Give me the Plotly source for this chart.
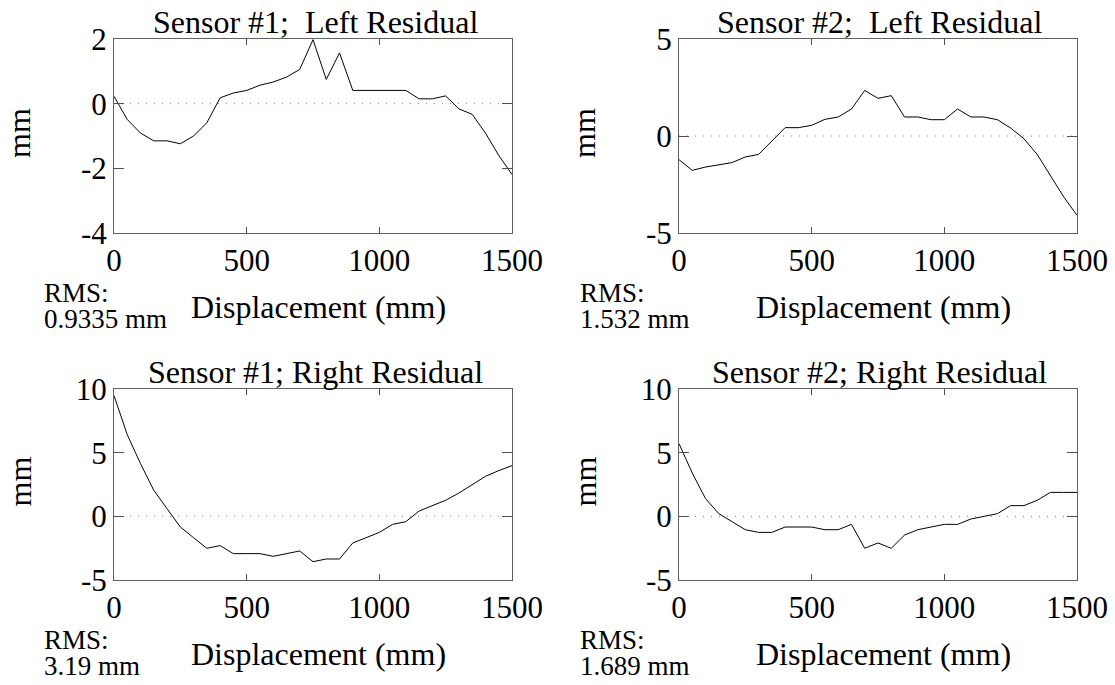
import plotly.graph_objects as go

# ---- data ----
displacement = [0, 50, 100, 150, 200, 250, 300, 350, 400, 450, 500, 550, 600, 650, 700,
                750, 800, 850, 900, 950, 1000, 1050, 1100, 1150, 1200, 1250, 1300, 1350,
                1400, 1450, 1500]

s1_left = [0.23, -0.49, -0.91, -1.15, -1.15, -1.24, -1.0, -0.59, 0.18, 0.33, 0.41, 0.57,
           0.67, 0.82, 1.06, 1.98, 0.75, 1.57, 0.41, 0.41, 0.41, 0.41, 0.41, 0.15, 0.15,
           0.24, -0.16, -0.33, -0.91, -1.6, -2.19]
s2_left = [-1.22, -1.77, -1.6, -1.48, -1.37, -1.08, -0.95, -0.26, 0.43, 0.43, 0.55, 0.86,
           0.98, 1.39, 2.35, 1.94, 2.08, 0.98, 0.98, 0.84, 0.84, 1.39, 0.98, 0.98, 0.84,
           0.41, -0.14, -0.95, -2.03, -3.14, -4.09]
s1_right = [9.48, 6.41, 4.14, 2.04, 0.6, -0.84, -1.68, -2.51, -2.3, -2.93, -2.93, -2.93,
            -3.14, -2.93, -2.72, -3.56, -3.35, -3.35, -2.09, -1.68, -1.26, -0.63, -0.42,
            0.42, 0.86, 1.26, 1.83, 2.49, 3.14, 3.59, 3.98]
s2_right = [5.71, 3.40, 1.39, 0.21, -0.42, -1.05, -1.26, -1.26, -0.84, -0.84, -0.84, -1.05,
            -1.05, -0.63, -2.51, -2.09, -2.51, -1.47, -1.05, -0.84, -0.63, -0.63, -0.21,
            0.0, 0.21, 0.84, 0.84, 1.26, 1.88, 1.88, 1.88]

titles = ["Sensor #1;\u00a0 Left Residual", "Sensor #2;\u00a0 Left Residual",
          "Sensor #1; Right Residual", "Sensor #2; Right Residual"]
rms_labels = ["0.9335 mm", "1.532 mm", "3.19 mm", "1.689 mm"]
y_ranges = [[-4, 2], [-5, 5], [-5, 10], [-5, 10]]
y_ticks = [[-4, -2, 0, 2], [-5, 0, 5], [-5, 0, 5, 10], [-5, 0, 5, 10]]
x_ticks = [0, 500, 1000, 1500]
x_label = "Displacement (mm)"
y_label = "mm"

series = [s1_left, s2_left, s1_right, s2_right]

# ---- layout in pixels ----
W, H = 1115, 685
FONT = "Liberation Serif, Times New Roman, serif"
FS_T = 32   # titles / axis labels
FS_K = 31   # tick labels
FS_R = 27   # RMS text
boxes = [(114, 512, 39, 233), (679, 1077, 39, 233),
         (114, 512, 389, 580), (679, 1077, 389, 580)]
rms_x = [42, 578, 42, 578]

def px(x):
    return x / W

def py(y):
    return 1 - y / H

def fmt(v):
    return str(v).replace("\u2212", "-")

fig = go.Figure()
annotations = []
shapes = []
layout = dict(width=W, height=H, margin=dict(l=0, r=0, t=0, b=0, pad=0),
              paper_bgcolor="white", plot_bgcolor="white", showlegend=False,
              font=dict(family=FONT, size=FS_T, color="black"))

for i, (vals, box) in enumerate(zip(series, boxes)):
    n = i + 1
    xa = "x" if n == 1 else f"x{n}"
    ya = "y" if n == 1 else f"y{n}"
    l, r, t, b = box
    fig.add_trace(go.Scatter(x=displacement, y=vals, mode="lines",
                             line=dict(color="black", width=1),
                             xaxis=xa, yaxis=ya, hoverinfo="skip"))
    axstyle = dict(showgrid=False, zeroline=False, showline=True, linecolor="#606060",
                   linewidth=1, mirror="ticks", ticks="inside", tickcolor="#505050",
                   tickwidth=1, automargin=False,
                   tickfont=dict(family=FONT, size=FS_K, color="black"))
    layout["xaxis" if n == 1 else f"xaxis{n}"] = dict(
        domain=[px(l), px(r)], range=[0, 1500], tickvals=x_ticks,
        ticktext=[fmt(v) for v in x_ticks], ticklen=6,
        anchor=ya, ticklabelstandoff=0, **axstyle)
    layout["yaxis" if n == 1 else f"yaxis{n}"] = dict(
        domain=[py(b), py(t)], range=y_ranges[i], tickvals=y_ticks[i],
        ticktext=[fmt(v) for v in y_ticks[i]], ticklen=10,
        anchor=xa, ticklabelstandoff=0, **axstyle)
    # dotted zero line
    shapes.append(dict(type="line", xref=f"{xa} domain", yref=ya, x0=0, x1=1, y0=0, y1=0,
                       line=dict(color="#808080", width=1, dash="1px,7px"), layer="below"))
    cx = (l + r) / 2
    annotations.append(dict(text=titles[i], x=px(cx + 2), y=py(t - 17), xref="paper",
                            yref="paper", showarrow=False, xanchor="center", yanchor="middle",
                            font=dict(family=FONT, size=FS_T, color="black")))
    annotations.append(dict(text=x_label, x=px(cx + 5), y=py(b + 74), xref="paper",
                            yref="paper", showarrow=False, xanchor="center", yanchor="middle",
                            font=dict(family=FONT, size=FS_T, color="black")))
    annotations.append(dict(text=y_label, x=px(l - 95), y=py((t + b) / 2 - 3), xref="paper",
                            yref="paper", showarrow=False, textangle=-90,
                            xanchor="center", yanchor="middle",
                            font=dict(family=FONT, size=FS_T, color="black")))
    annotations.append(dict(text="RMS:", x=px(rms_x[i]), y=py(b + 60), xref="paper",
                            yref="paper", showarrow=False, xanchor="left", yanchor="middle",
                            font=dict(family=FONT, size=FS_R, color="black")))
    annotations.append(dict(text=rms_labels[i], x=px(rms_x[i]), y=py(b + 86), xref="paper",
                            yref="paper", showarrow=False, xanchor="left", yanchor="middle",
                            font=dict(family=FONT, size=FS_R, color="black")))

layout["annotations"] = annotations
layout["shapes"] = shapes
fig.update_layout(**layout)
fig.write_html("out.html", config={"displayModeBar": False},
               post_script="document.body.style.margin='0';document.body.style.overflow='hidden';")
